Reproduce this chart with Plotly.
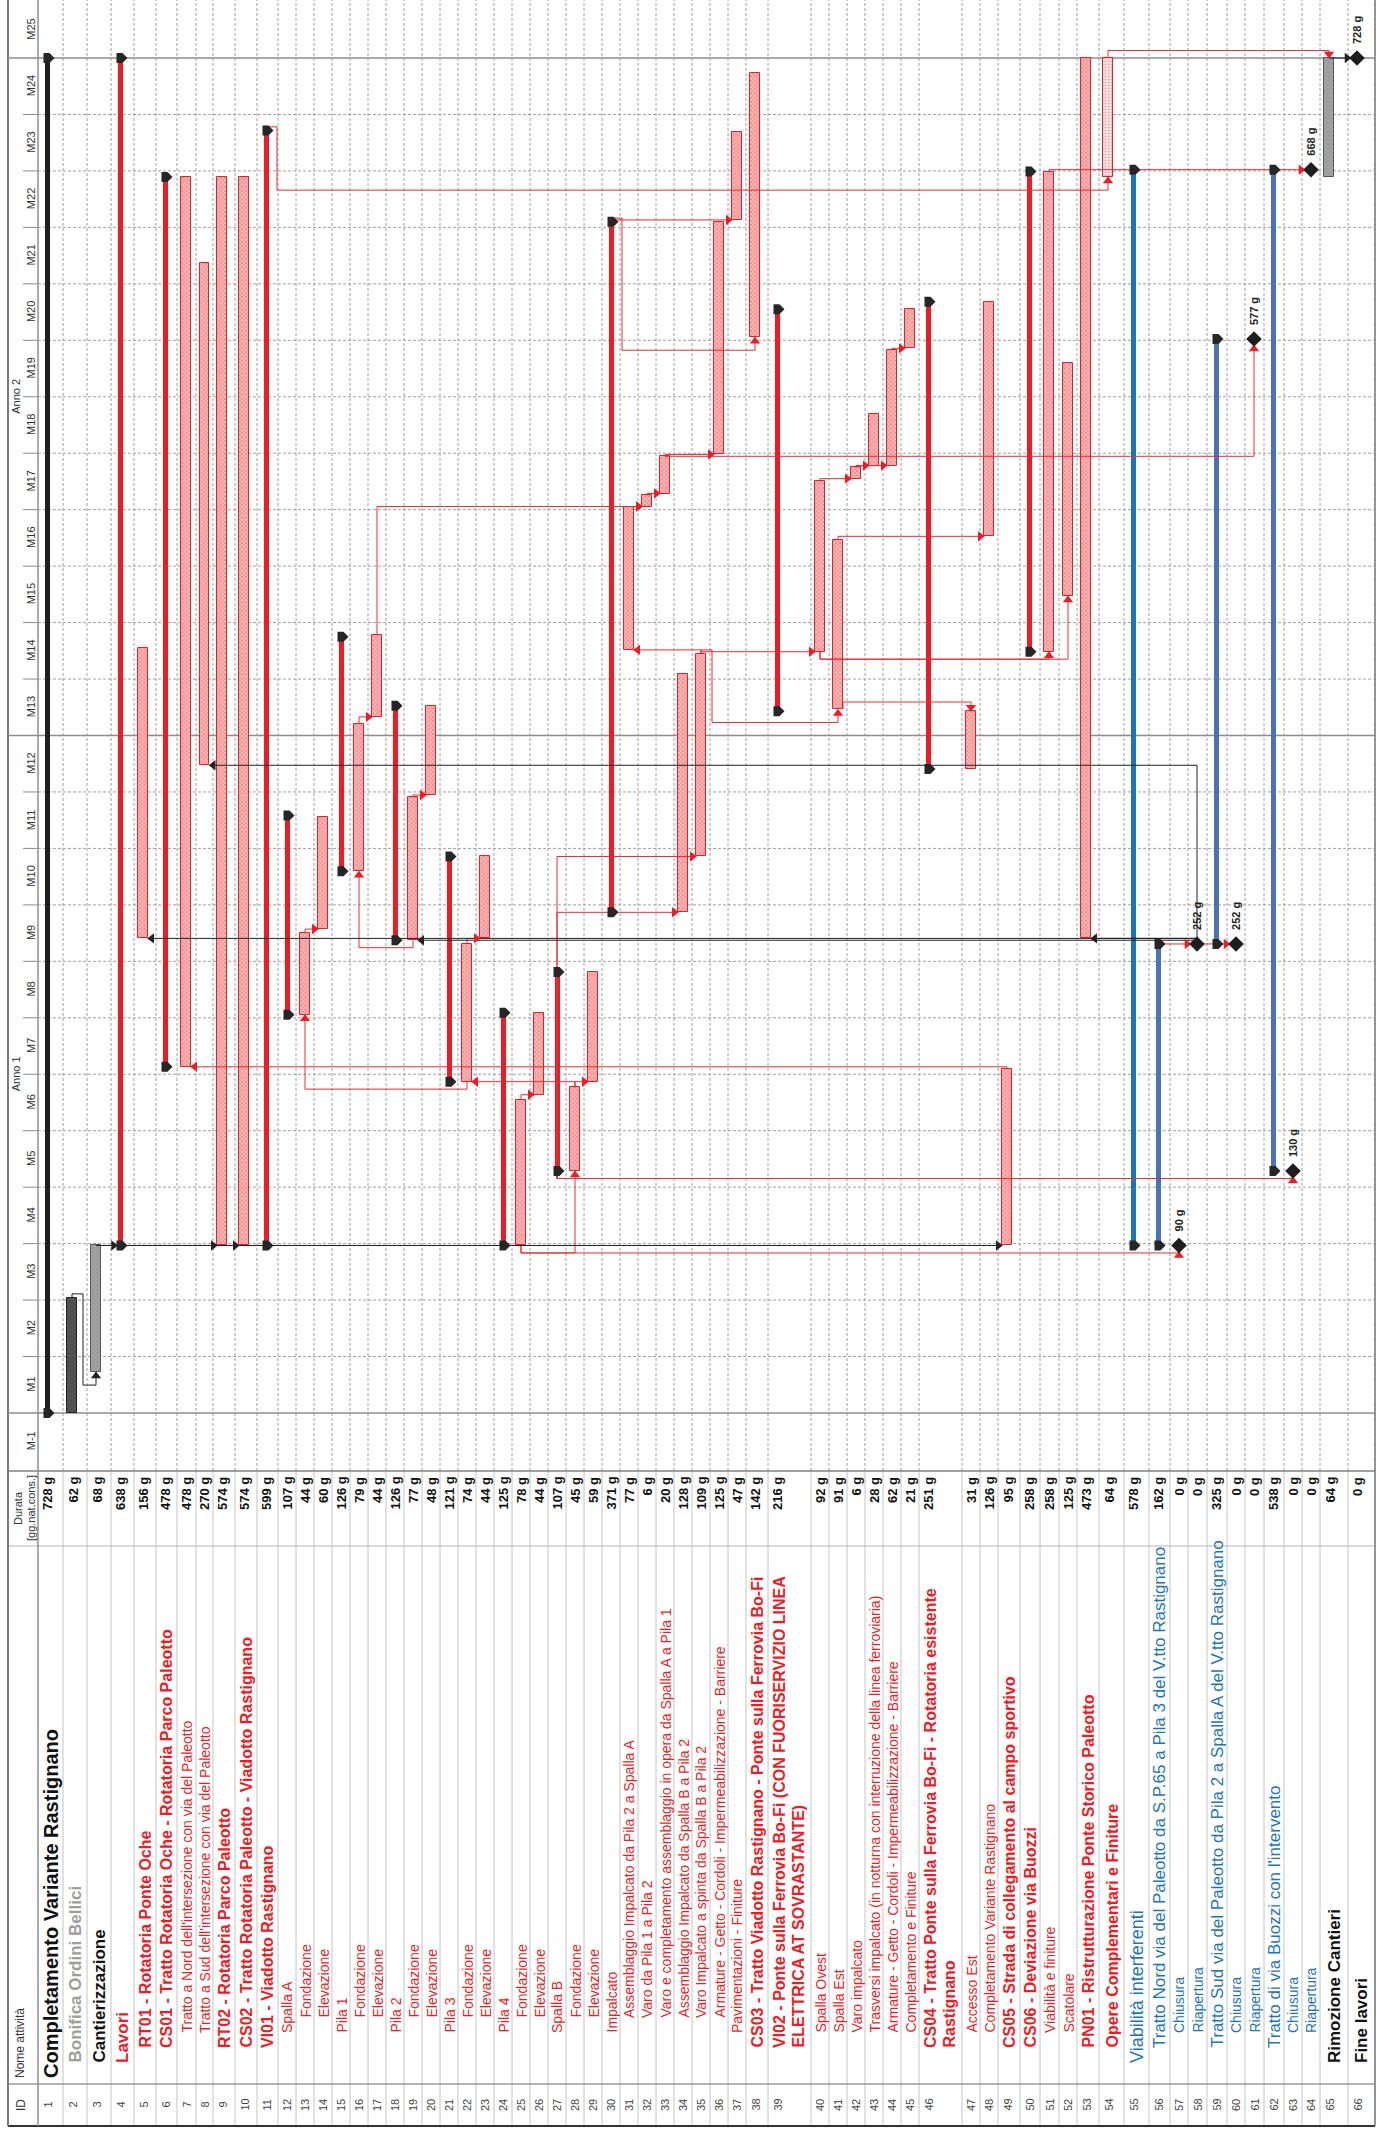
import plotly.graph_objects as go

W, H = 1383, 2134

# ============================== DATA ==============================
task_names = [
    "Completamento Variante Rastignano",
    "Bonifica Ordini Bellici",
    "Cantierizzazione",
    "Lavori",
    "RT01 - Rotatoria Ponte Oche",
    "CS01 - Tratto Rotatoria Oche - Rotatoria Parco Paleotto",
    "Tratto a Nord dell'intersezione con via del Paleotto",
    "Tratto a Sud dell'intersezione con via del Paleotto",
    "RT02 - Rotatoria Parco Paleotto",
    "CS02 - Tratto Rotatoria Paleotto - Viadotto Rastignano",
    "VI01 - Viadotto Rastignano",
    "Spalla A", "Fondazione", "Elevazione",
    "Pila 1", "Fondazione", "Elevazione",
    "Pila 2", "Fondazione", "Elevazione",
    "Pila 3", "Fondazione", "Elevazione",
    "Pila 4", "Fondazione", "Elevazione",
    "Spalla B", "Fondazione", "Elevazione",
    "Impalcato",
    "Assemblaggio Impalcato da Pila 2 a Spalla A",
    "Varo da Pila 1 a Pila 2",
    "Varo e completamento assemblaggio in opera da Spalla A a Pila 1",
    "Assemblaggio Impalcato da Spalla B a Pila 2",
    "Varo Impalcato a spinta da Spalla B a Pila 2",
    "Armature - Getto - Cordoli - Impermeabilizzazione - Barriere",
    "Pavimentazioni - Finiture",
    "CS03 - Tratto Viadotto Rastignano - Ponte sulla Ferrovia Bo-Fi",
    "VI02 - Ponte sulla Ferrovia Bo-Fi (CON FUORISERVIZIO LINEA\nELETTRICA AT SOVRASTANTE)",
    "Spalla Ovest", "Spalla Est", "Varo impalcato",
    "Trasversi impalcato (in notturna con interruzione della linea ferroviaria)",
    "Armature - Getto - Cordoli - Impermeabilizzazione - Barriere",
    "Completamento e Finiture",
    "CS04 - Tratto Ponte sulla Ferrovia Bo-Fi - Rotatoria esistente\nRastignano",
    "Accesso Est",
    "Completamento Variante Rastignano",
    "CS05 - Strada di collegamento al campo sportivo",
    "CS06 - Deviazione via Buozzi",
    "Viabilità e finiture",
    "Scatolare",
    "PN01 - Ristrutturazione Ponte Storico Paleotto",
    "Opere Complementari e Finiture",
    "Viabilità interferenti",
    "Tratto Nord via del Paleotto da S.P.65 a Pila 3 del V.tto Rastignano",
    "Chiusura", "Riapertura",
    "Tratto Sud via del Paleotto da Pila 2 a Spalla A del V.tto Rastignano",
    "Chiusura", "Riapertura",
    "Tratto di via Buozzi con l'intervento",
    "Chiusura", "Riapertura",
    "Rimozione Cantieri",
    "Fine lavori",
]

task_durations = [728, 62, 68, 638, 156, 478, 478, 270, 574, 574, 599,
                  107, 44, 60, 126, 79, 44, 126, 77, 48, 121, 74, 44,
                  125, 78, 44, 107, 45, 59, 371, 77, 6, 20, 128, 109,
                  125, 47, 142, 216, 92, 91, 6, 28, 62, 21, 251, 31,
                  126, 95, 258, 258, 125, 473, 64, 578, 162, 0, 0, 325,
                  0, 0, 538, 0, 0, 64, 0]

task_starts = [0, 0, 22, 90, 255, 186, 186, 348, 90, 90, 90,
               214, 214, 260, 291, 291, 374, 254, 254, 332, 178, 178, 255,
               90, 90, 171, 130, 130, 178, 269, 410, 487, 494, 269, 299,
               515, 641, 578, 377, 409, 378, 502, 509, 509, 572, 346, 346,
               471, 90, 409, 409, 439, 255, 664, 90, 90, 90, 252, 252,
               252, 577, 130, 130, 668, 664, 728]

# S = summary, T = task, M = milestone
task_kinds = ["S", "T", "T", "S", "T", "S", "T", "T", "T", "T", "S",
              "S", "T", "T", "S", "T", "T", "S", "T", "T", "S", "T", "T",
              "S", "T", "T", "S", "T", "T", "S", "T", "T", "T", "T", "T",
              "T", "T", "T", "S", "T", "T", "T", "T", "T", "T", "S", "T",
              "T", "T", "S", "T", "T", "T", "T", "S", "S", "M", "M", "S",
              "M", "M", "S", "M", "M", "T", "M"]

# k = black, d = dark grey, c = grey, r = red works, b = blue (interferences)
task_groups = ["k", "d", "c"] + ["r"] * 51 + ["b"] * 10 + ["c", "k"]

# (predecessor, successor, type)
task_links = [
    (2, 3, "FS"), (3, 4, "FS"), (3, 9, "FS"), (3, 10, "FS"), (3, 49, "FS"),
    (13, 14, "FS"), (16, 17, "FS"), (19, 20, "FS"), (22, 23, "FS"),
    (25, 26, "FS"), (28, 29, "FS"), (28, 22, "FS"),
    (22, 13, "SS"), (19, 16, "SS"), (25, 28, "SS"), (25, 57, "SS"),
    (27, 63, "SS"), (27, 34, "SS"), (27, 35, "SS"),
    (49, 7, "FS"), (17, 32, "FS"), (31, 32, "FS"), (32, 33, "FS"),
    (33, 36, "FS"), (33, 61, "FS"), (35, 31, "FS"), (35, 40, "FS"),
    (35, 41, "FS"), (40, 42, "FS"), (42, 43, "FS"), (42, 44, "FS"),
    (44, 45, "FS"), (41, 48, "FS"), (41, 47, "SF"), (40, 51, "SS"),
    (40, 52, "SS"), (30, 37, "FS"), (30, 38, "FS"), (11, 54, "FS"),
    (51, 64, "FS"), (54, 65, "FF"), (56, 58, "FS"), (58, 60, "FS"),
    (58, 5, "FS"), (58, 19, "FS"), (58, 53, "FS"), (58, 8, "FS"),
    (65, 66, "FS"),
]

month_labels = ["M-1", "M1", "M2", "M3", "M4", "M5", "M6", "M7", "M8", "M9",
                "M10", "M11", "M12", "M13", "M14", "M15", "M16", "M17", "M18",
                "M19", "M20", "M21", "M22", "M23", "M24", "M25"]
year_labels = ["Anno 1", "Anno 2"]
header_labels = ["ID", "Nome attività", "Durata", "[gg.nat.cons.]"]

# ============================== STYLE / LAYOUT ==============================
FONT = "Liberation Sans, Arial, Helvetica, sans-serif"
RED = "#ed1c24"
BLUE = "#1b75bb"
BLUE2 = "#4a72b6"
BLACK = "#231f20"
GRID = "#a0a0a0"

row_heights = ([25, 24, 24, 23, 22, 21, 19, 17, 22, 22, 21] + [18] * 26 +
               [22, 43] + [18] * 6 + [43] +
               [18, 18, 22, 20, 19, 18, 22, 25, 25, 21, 18, 19, 20, 18, 19,
                20, 18, 18, 28, 27])
task_levels = ([0, 1, 1, 1, 2, 2, 3, 3, 2, 2, 2] + [3, 4, 4] * 6 +
               [3] + [4] * 6 + [3, 2, 2] + [3] * 6 + [2, 3, 3, 2, 2, 3, 3, 2, 2,
               1, 2, 3, 3, 2, 3, 3, 2, 3, 3, 1, 1])
name_style = (["title", "l1", "l1", "l1", "l2", "l2", "sm", "sm", "l2", "l2", "l2"] +
              ["smb", "sm", "sm"] * 6 + ["smb"] + ["sm"] * 6 + ["smb", "l2", "l2"] +
              ["sm"] * 6 + ["l2", "sm", "sm", "l2", "l2", "sm", "sm", "l2", "l2",
               "l1b", "l2b", "sm", "sm", "l2b", "sm", "sm", "l2b", "sm", "sm", "l1", "l1"])
STYLE_FONT = {"title": (20, True), "l1": (17, True), "l1b": (18, False),
              "l2": (16, True), "l2b": (17, False), "sm": (14, False), "smb": (14, False)}
GROUP_TEXT = {"k": "#111111", "d": "#9d9d9d", "c": "#111111", "r": RED, "b": BLUE}

LEFT = 8
HEADER_RIGHT = 38
MONTH_TICK_LEFT = 23
GANTT_BOTTOM = 1471
DUR_BOTTOM = 1546
NAME_BOTTOM = 2084
TABLE_BOTTOM = 2126
PX_DAY0 = 1413
PX_DAYEND = 58

n = len(task_names)
finishes = [s + d for s, d in zip(task_starts, task_durations)]
tops = []
acc = HEADER_RIGHT
for h in row_heights:
    tops.append(acc)
    acc += h
RIGHT = acc
bar_x = [t + min(9.0, h / 2.0) for t, h in zip(tops, row_heights)]

PROJECT_DAYS = max(finishes)
MONTH = PROJECT_DAYS / 24.0
ppd = (PX_DAY0 - PX_DAYEND) / PROJECT_DAYS
dpp = 1.0 / ppd
Y_MAX = PROJECT_DAYS + PX_DAYEND * dpp
Y_MIN = -(GANTT_BOTTOM - PX_DAY0) * dpp


def py(p):
    return 1 - p / H


fig = go.Figure()

# ------------------------------ bars ------------------------------
def add_bars(idx, width, fill, line_color, line_w, pattern=None):
    marker = dict(color=fill, line=dict(color=line_color, width=line_w))
    if pattern:
        marker["pattern"] = pattern
    fig.add_trace(go.Bar(
        x=[bar_x[i] for i in idx], base=[task_starts[i] for i in idx],
        y=[task_durations[i] for i in idx], width=[width] * len(idx),
        marker=marker, hoverinfo="skip", showlegend=False))


light_rows = {54}
red_tasks = [i for i in range(n) if task_kinds[i] == "T" and task_groups[i] == "r"
             and (i + 1) not in light_rows]
light_tasks = [i for i in range(n) if (i + 1) in light_rows]
dark_tasks = [i for i in range(n) if task_kinds[i] == "T" and task_groups[i] == "d"]
grey_tasks = [i for i in range(n) if task_kinds[i] == "T" and task_groups[i] == "c"]

add_bars(red_tasks, 9.5, "#f4a3a3", RED, 1,
         dict(shape="x", size=3, solidity=0.4, fgcolor="#e93a3a", bgcolor="#f7b9b9"))
add_bars(light_tasks, 9.5, "#fde6e6", RED, 1,
         dict(shape=".", size=3, solidity=0.35, fgcolor="#ef5050", bgcolor="#fdeeee"))
add_bars(dark_tasks, 9.5, "#444444", "#222222", 1,
         dict(shape="x", size=3, solidity=0.4, fgcolor="#1a1a1a", bgcolor="#5a5a5a"))
add_bars(grey_tasks, 9.5, "#9a9a9a", "#555555", 1,
         dict(shape="x", size=3, solidity=0.35, fgcolor="#5e5e5e", bgcolor="#a8a8a8"))

summ = [i for i in range(n) if task_kinds[i] == "S"]
add_bars([i for i in summ if task_groups[i] == "k"], 5, BLACK, BLACK, 0)
add_bars([i for i in summ if task_groups[i] == "r"], 5, RED, RED, 0)
blue_s = [i for i in summ if task_groups[i] == "b"]
add_bars(blue_s[:1], 5, BLUE, BLUE, 0)
add_bars(blue_s[1:], 5, BLUE2, BLUE2, 0)

# ------------------------------ links ------------------------------
half_w = {"S": 2.5, "T": 4.75, "M": 6.0}
line_pts = {"r": ([], []), "k": ([], [])}
arrow_pts = {}


def add_arrow(col, sym, x, y):
    arrow_pts.setdefault((col, sym), ([], []))
    arrow_pts[(col, sym)][0].append(x)
    arrow_pts[(col, sym)][1].append(y)


for p, s, typ in task_links:
    pi, si = p - 1, s - 1
    col = "k" if task_groups[pi] in ("k", "c", "d") or (p == 58 and task_groups[si] != "b") else "r"
    xp, xs = bar_x[pi], bar_x[si]
    d = 1 if xs > xp else -1
    hs = half_w[task_kinds[si]]
    vs = 6.0 if task_kinds[si] == "M" else 0.0
    ss, sf = task_starts[si], finishes[si]
    ta = finishes[pi] if typ in ("FS", "FF") else task_starts[pi]
    diff = ss - ta
    if typ == "FF":
        yl = max(finishes[pi], sf) + 4
        pts = [(xp, ta), (xp, yl), (xs, yl), (xs, sf + vs * dpp)]
        add_arrow(col, "triangle-down", xs, sf + (vs + 4) * dpp)
    elif typ == "SF":
        xo = xp + 5
        yl = sf + 5
        pts = [(xo, ta), (xo, yl), (xs, yl), (xs, sf)]
        add_arrow(col, "triangle-down", xs, sf + 4 * dpp)
    elif typ == "FS" and -1 <= diff <= 4:
        pts = [(xp, ta), (xp, ss), (xs - d * hs, ss)]
        add_arrow(col, "triangle-right" if d > 0 else "triangle-left", xs - d * (hs + 4), ss)
    elif typ == "FS" and diff < -1:
        yl = ta + 2
        xg = xp + d * 11
        yb = ss - 7
        pts = [(xp, ta), (xp, yl), (xg, yl), (xg, yb), (xs, yb), (xs, ss - vs * dpp)]
        add_arrow(col, "triangle-up", xs, ss - (vs + 4) * dpp)
    else:
        yl = ta if typ == "FS" else ta - 4
        vertical_first = (typ == "FS" and task_kinds[si] != "M" and diff > 60) or \
                         (typ == "SS" and diff > 100)
        if vertical_first:
            pts = [(xp, ta), (xp, yl), (xp, ss), (xs - d * hs, ss)]
            add_arrow(col, "triangle-right" if d > 0 else "triangle-left", xs - d * (hs + 4), ss)
        else:
            pts = [(xp, ta), (xp, yl), (xs, yl), (xs, ss - vs * dpp)]
            add_arrow(col, "triangle-up", xs, ss - (vs + 4) * dpp)
    xs_l, ys_l = line_pts[col]
    for x, y in pts:
        xs_l.append(x)
        ys_l.append(y)
    xs_l.append(None)
    ys_l.append(None)

for col, c in (("r", "#ee2a30"), ("k", "#222222")):
    fig.add_trace(go.Scatter(x=line_pts[col][0], y=line_pts[col][1], mode="lines",
                             line=dict(color=c, width=1), hoverinfo="skip", showlegend=False))
for (col, sym), (ax, ay) in arrow_pts.items():
    fig.add_trace(go.Scatter(x=ax, y=ay, mode="markers",
                             marker=dict(symbol=sym, size=9,
                                         color="#ee1c24" if col == "r" else "#222222"),
                             hoverinfo="skip", showlegend=False))

# ------------------------------ milestones ------------------------------
ms = [i for i in range(n) if task_kinds[i] == "M"]
fig.add_trace(go.Scatter(x=[bar_x[i] for i in ms], y=[task_starts[i] for i in ms],
                         mode="markers", marker=dict(symbol="diamond", size=12, color="#1e1e1e"),
                         hoverinfo="skip", showlegend=False))

# ------------------------------ shapes ------------------------------
shapes = []


def line(x0, y0, x1, y1, color, width=1, dash=None, xref="x", yref="y", layer="below"):
    d = dict(type="line", x0=x0, y0=y0, x1=x1, y1=y1, xref=xref, yref=yref,
             line=dict(color=color, width=width), layer=layer)
    if dash:
        d["line"]["dash"] = dash
    shapes.append(d)


for k in range(1, 25):
    t = k * MONTH
    if k % 12 == 0:
        continue
    line(HEADER_RIGHT, t, RIGHT, t, GRID, 1, "3px,2px")
    line(MONTH_TICK_LEFT, t, HEADER_RIGHT, t, "#8a8a8a", 1)
for k in (0, 12, 24):
    t = k * MONTH
    line(LEFT, t, RIGHT, t, "#8c8c8c", 1.5)

for t in tops[1:] + [RIGHT]:
    line(t, py(GANTT_BOTTOM), t, 1, GRID, 1, "3px,2px", yref="paper")
    line(t, py(TABLE_BOTTOM), t, py(GANTT_BOTTOM), "#c4c4c4", 1, yref="paper")

line(LEFT, py(GANTT_BOTTOM), RIGHT, py(GANTT_BOTTOM), "#808080", 1.5, yref="paper")
line(LEFT, py(DUR_BOTTOM), RIGHT, py(DUR_BOTTOM), "#b5b5b5", 1.2, yref="paper")
line(LEFT, py(NAME_BOTTOM), RIGHT, py(NAME_BOTTOM), "#9a9a9a", 1.5, yref="paper")
line(LEFT, py(TABLE_BOTTOM), RIGHT, py(TABLE_BOTTOM), "#333333", 2, yref="paper")
line(LEFT, py(TABLE_BOTTOM), LEFT, 1, "#7a7a7a", 2, yref="paper")
line(HEADER_RIGHT, py(TABLE_BOTTOM), HEADER_RIGHT, 1, "#8f8f8f", 1.5, yref="paper")
line(RIGHT, py(TABLE_BOTTOM), RIGHT, 1, "#7a7a7a", 1.5, yref="paper")

for i in summ:
    x = bar_x[i]
    hh = 5 * dpp
    for t in (task_starts[i], finishes[i]):
        path = (f"M {x-3.5},{t-hh} L {x+2.5},{t-hh} L {x+7.5},{t} "
                f"L {x+2.5},{t+hh} L {x-3.5},{t+hh} Z")
        shapes.append(dict(type="path", path=path, xref="x", yref="y",
                           fillcolor="#262626", line=dict(width=0), layer="above"))

# ------------------------------ annotations ------------------------------
ann = []


def text(x, y, s, size, color="#111111", bold=False, xanchor="center", yanchor="middle",
         yref="paper"):
    ann.append(dict(x=x, y=y, xref="x", yref=yref, text=(f"<b>{s}</b>" if bold else s),
                    showarrow=False, textangle=-90, xanchor=xanchor, yanchor=yanchor,
                    font=dict(family=FONT, size=size, color=color)))


for i in range(n):
    h = row_heights[i]
    tx = tops[i] + min(9.5, h / 2.0)
    text(tx, py(2105), str(i + 1), 11, "#444444")
    text(tx, py(1475), f"{task_durations[i]} g", 13, "#111111", bold=True, yanchor="top")
    size, bold = STYLE_FONT[name_style[i]]
    color = GROUP_TEXT[task_groups[i]]
    ybase = py(NAME_BOTTOM - 4 - 15 * task_levels[i])
    parts = task_names[i].split("\n")
    if len(parts) == 1:
        text(tops[i] + h / 2.0, ybase, parts[0], size, color, bold, yanchor="bottom")
    else:
        for j, part in enumerate(parts):
            text(tops[i] + 11 + 19 * j, ybase, part, size, color, bold, yanchor="bottom")

text(21, py(2105), header_labels[0], 12, "#333333")
text(20, py(NAME_BOTTOM - 4), header_labels[1], 12, "#333333", yanchor="bottom")
text(18, py(1508), header_labels[2], 11, "#333333")
text(31, py(1508), header_labels[3], 11, "#333333")

for k, lab in enumerate(month_labels):
    center = -MONTH / 2 if k == 0 else (k - 0.5) * MONTH
    text(31, center, lab, 11, "#333333", yref="y")
for j, lab in enumerate(year_labels):
    text(16, (j + 0.5) * 12 * MONTH, lab, 11, "#333333", yref="y")

for i in ms:
    text(bar_x[i], task_starts[i] + 12 * dpp, f"{task_starts[i]} g", 11, "#222222",
         bold=True, yanchor="bottom", yref="y")

fig.update_layout(
    width=W, height=H, margin=dict(l=0, r=0, t=0, b=0),
    paper_bgcolor="white", plot_bgcolor="white",
    barmode="overlay", bargap=0, showlegend=False, hovermode=False,
    xaxis=dict(range=[0, W], domain=[0, 1], visible=False, fixedrange=True),
    yaxis=dict(range=[Y_MIN, Y_MAX], domain=[py(GANTT_BOTTOM), 1], visible=False,
               fixedrange=True),
    shapes=shapes, annotations=ann,
    font=dict(family=FONT),
)

fig.write_html("out.html", config={"displayModeBar": False},
               post_script="document.body.style.margin='0px';document.body.style.overflow='hidden';")
